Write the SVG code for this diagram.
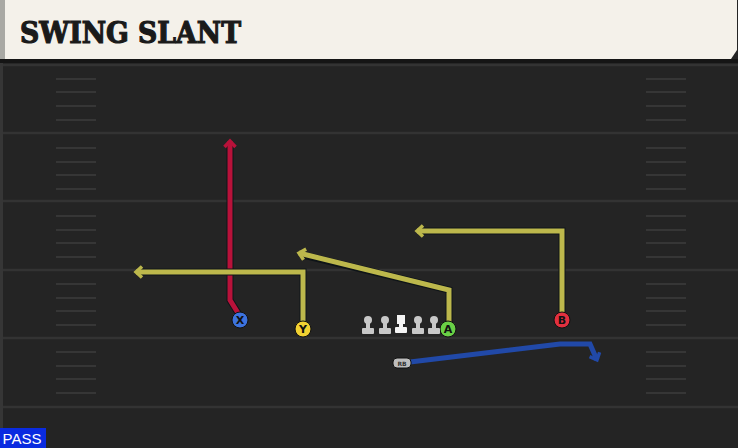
<svg xmlns="http://www.w3.org/2000/svg" width="738" height="448" viewBox="0 0 738 448">
<style>
.yl{stroke:#333333;stroke-width:2.5}
.hm{stroke:#363636;stroke-width:2}
.rt{fill:none;stroke-width:5;stroke-linejoin:miter;stroke-linecap:butt}
.ol{fill:none;stroke:#0e1418;stroke-width:7;stroke-linejoin:miter}
.pl{stroke:#111;stroke-width:1}
.lt{font-family:"DejaVu Sans","Liberation Sans",sans-serif;font-weight:bold;font-size:11px;text-anchor:middle;fill:#111}
.ln{fill:#c8c8c8}
</style>
<defs>
<marker id="ay" markerWidth="14" markerHeight="14" refX="9" refY="7" orient="auto" markerUnits="userSpaceOnUse">
<path d="M3,1.5 L9,7 L3,12.5" fill="none" stroke="#bdb84c" stroke-width="3.5"/>
</marker>
<marker id="ar" markerWidth="14" markerHeight="14" refX="9" refY="7" orient="auto" markerUnits="userSpaceOnUse">
<path d="M3,1.5 L9,7 L3,12.5" fill="none" stroke="#b8123a" stroke-width="3.5"/>
</marker>
<marker id="ab" markerWidth="14" markerHeight="14" refX="9" refY="7" orient="auto" markerUnits="userSpaceOnUse">
<path d="M3,1.5 L9,7 L3,12.5" fill="none" stroke="#2149a8" stroke-width="3.5"/>
</marker>
</defs>
<rect x="0" y="0" width="738" height="448" fill="#242424"/>
<rect x="0" y="60" width="3" height="388" fill="#363636"/>
<rect x="0" y="59" width="738" height="4" fill="#151515"/>
<g id="field">
<line class="yl" x1="3" y1="65" x2="738" y2="65"/>
<line class="yl" x1="3" y1="133" x2="738" y2="133"/>
<line class="yl" x1="3" y1="201" x2="738" y2="201"/>
<line class="yl" x1="3" y1="270" x2="738" y2="270"/>
<line class="yl" x1="3" y1="338" x2="738" y2="338"/>
<line class="yl" x1="3" y1="407" x2="738" y2="407"/>
<g id="hashes-left">
<path class="hm" d="M56,79H96M56,92H96M56,106H96M56,120H96M56,148H96M56,162H96M56,175H96M56,189H96M56,216H96M56,230H96M56,243H96M56,257H96M56,284H96M56,298H96M56,311H96M56,325H96M56,352H96M56,366H96M56,379H96M56,393H96"/>
</g>
<g id="hashes-right">
<path class="hm" d="M646,79H686M646,92H686M646,106H686M646,120H686M646,148H686M646,162H686M646,175H686M646,189H686M646,216H686M646,230H686M646,243H686M646,257H686M646,284H686M646,298H686M646,311H686M646,325H686M646,352H686M646,366H686M646,379H686M646,393H686"/>
</g>
</g>
<g id="title">
<path d="M0,0 H737 V50 L731,59 H0 Z" fill="#f4f1ea"/>
<rect x="0" y="0" width="5" height="59" fill="#a9a9a4"/>
<text x="20" y="42.5" font-family="'DejaVu Serif','Liberation Serif',serif" font-weight="900" font-size="29" fill="#1a1a1a" stroke="#1a1a1a" stroke-width="1.2" textLength="221" lengthAdjust="spacingAndGlyphs">SWING SLANT</text>
</g>
<g id="connectors">
<path class="ol" d="M238,313 L230,300 L230,146"/>
<path class="rt" d="M238,313 L230,300 L230,141" stroke="#b8123a" marker-end="url(#ar)"/>
<path class="ol" d="M303,322 V272 H141"/>
<path class="rt" d="M303,322 V272 H136" stroke="#bdb84c" marker-end="url(#ay)"/>
<path class="ol" d="M449,322 V290 L303,255"/>
<path class="rt" d="M449,322 V290 L299,253" stroke="#bdb84c" marker-end="url(#ay)"/>
<path class="ol" d="M562,313 V231 H422"/>
<path class="rt" d="M562,313 V231 H417" stroke="#bdb84c" marker-end="url(#ay)"/>
<path class="rt" d="M410,362 L560,344 H590 L597,360" stroke="#2149a8" marker-end="url(#ab)"/>
</g>
<g id="X">
<circle cx="240" cy="320" r="8" fill="#3d73dd" class="pl"/>
<text class="lt" x="240" y="324">X</text>
</g>
<g id="Y">
<circle cx="303" cy="329" r="8" fill="#f2d232" class="pl"/>
<text class="lt" x="303" y="333">Y</text>
</g>
<g id="A">
<circle cx="448" cy="329" r="8" fill="#6ad046" class="pl"/>
<text class="lt" x="448" y="333">A</text>
</g>
<g id="B">
<circle cx="562" cy="320" r="8" fill="#e2303f" class="pl"/>
<text class="lt" x="562" y="324">B</text>
</g>
<g id="line">
<g id="LT"><circle cx="368" cy="320" r="4" class="ln"/><rect x="366" y="322" width="4" height="8" class="ln"/><rect x="362" y="328" width="12" height="6" rx="1" class="ln"/></g>
<g id="LG"><circle cx="385" cy="320" r="4" class="ln"/><rect x="383" y="322" width="4" height="8" class="ln"/><rect x="379" y="328" width="12" height="6" rx="1" class="ln"/></g>
<g id="C"><rect x="397" y="315" width="8" height="9" fill="#f4f4f4"/><rect x="399" y="322" width="4" height="7" fill="#f4f4f4"/><rect x="395" y="327" width="12" height="6" rx="1" fill="#f4f4f4"/></g>
<g id="RG"><circle cx="418" cy="320" r="4" class="ln"/><rect x="416" y="322" width="4" height="8" class="ln"/><rect x="412" y="328" width="12" height="6" rx="1" class="ln"/></g>
<g id="RT"><circle cx="434" cy="320" r="4" class="ln"/><rect x="432" y="322" width="4" height="8" class="ln"/><rect x="428" y="328" width="12" height="6" rx="1" class="ln"/></g>
</g>
<g id="RB">
<rect x="393" y="358" width="18" height="10" rx="4" fill="#bdbdbd" stroke="#111" stroke-width="1"/>
<text x="402" y="366" font-family="'DejaVu Sans',sans-serif" font-size="6" font-weight="bold" text-anchor="middle" fill="#333">RB</text>
</g>
<g id="pass">
<rect x="0" y="428" width="46" height="20" fill="#0a2be0"/>
<text x="22" y="444" font-family="'Liberation Sans',Arial,sans-serif" font-size="15" fill="#ffffff" text-anchor="middle">PASS</text>
</g>
</svg>
